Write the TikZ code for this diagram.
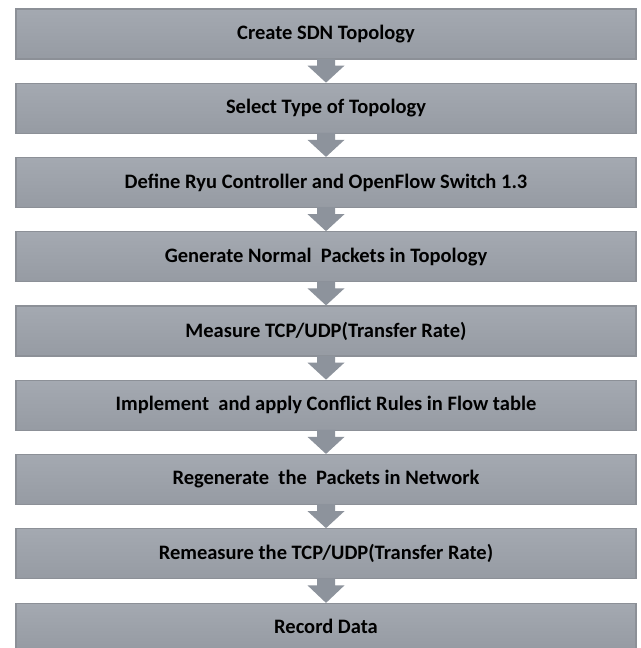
\documentclass[tikz,border=0pt]{standalone}
\usepackage{fontspec}
\setmainfont{Carlito}
\usetikzlibrary{calc}
\definecolor{boxtop}{HTML}{A4A9B1}
\definecolor{boxbot}{HTML}{969BA3}
\definecolor{boxline}{HTML}{8C9097}
\definecolor{arrowfill}{HTML}{8D939C}
\tikzset{
  box/.style={rectangle, minimum width=620pt, minimum height=50pt, inner sep=0pt,
    top color=boxtop, bottom color=boxbot, draw=boxline, line width=1.2pt,
    font=\fontsize{20.5}{24}\selectfont\bfseries, text=black},
  lastbox/.style={box, minimum height=45pt},
  flowarrow/.style={fill=arrowfill, draw=none}
}
\begin{document}
\begin{tikzpicture}[x=1pt,y=-1pt]
\useasboundingbox[fill=white] (0,0) rectangle (640,648);
\node[box] (b1) at (326,34) {Create SDN Topology};
\node[box] (b2) at (326,108.25) {Select Type of Topology};
\node[box] (b3) at (326,182.5) {Define Ryu Controller and OpenFlow Switch 1.3};
\node[box] (b4) at (326,256.75) {Generate Normal\ \ Packets in Topology};
\node[box] (b5) at (326,331) {Measure TCP/UDP(Transfer Rate)};
\node[box] (b6) at (326,405.25) {Implement\ \ and apply Conflict Rules in Flow table};
\node[box] (b7) at (326,479.5) {Regenerate\ \ the\ \ Packets in Network};
\node[box] (b8) at (326,553.75) {Remeasure the TCP/UDP(Transfer Rate)};
\node[lastbox] (b9) at (326,626) {Record Data};
\foreach \a/\b in {b1/b2,b2/b3,b3/b4,b4/b5,b5/b6,b6/b7,b7/b8,b8/b9}{
  \fill[flowarrow] ($(\a.south)+(-9,-1)$) -- ($(\a.south)+(9,-1)$) -- ($(\a.south)+(9,6)$)
    -- ($(\a.south)+(18.5,6)$) -- (\b.north) -- ($(\a.south)+(-18.5,6)$)
    -- ($(\a.south)+(-9,6)$) -- cycle;
}
\end{tikzpicture}
\end{document}
